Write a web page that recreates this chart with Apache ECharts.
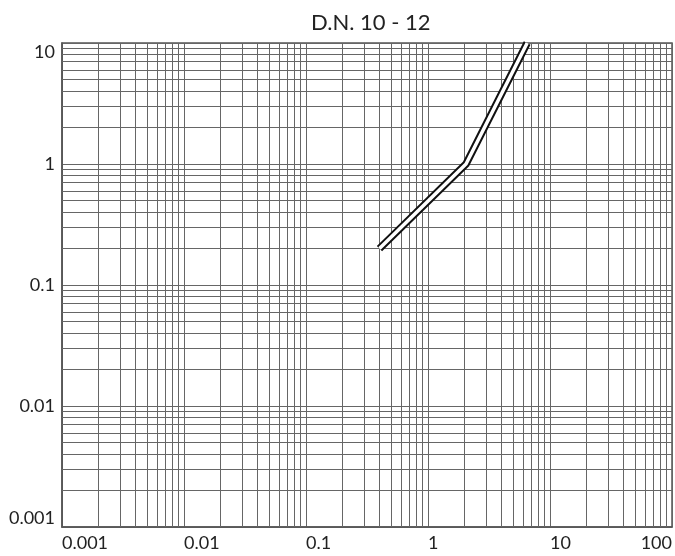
<!DOCTYPE html>
<html>
<head>
<meta charset="utf-8">
<style>
  html, body { margin: 0; padding: 0; background: #fff; }
  #chart { width: 675px; height: 556px; }
</style>
<script src="https://cdn.jsdelivr.net/npm/echarts@6/dist/echarts.min.js"></script>
</head>
<body>
<div id="chart"></div>
<script>
// ---- data ----
const titleText = 'D.N. 10 - 12';
const xTickLabels = ['0.001', '0.01', '0.1', '1', '10', '100'];
const yTickLabels = ['0.001', '0.01', '0.1', '1', '10'];
const curveX = [0.4, 2.05, 6.5];
const curveY = [0.2, 1.0, 10];
// log paper minor grid: mantissas within each decade
const gridMantissas = [2, 3, 4, 5, 6, 7, 8, 9];
const xDecades = [0.001, 0.01, 0.1, 1, 10];
const yDecades = [0.001, 0.01, 0.1, 1];
const xRange = [0.001, 100];
const yRange = [0.001, 10];

const curveData = curveX.map((x, i) => [x, curveY[i]]);
const minorLines = [];
xDecades.forEach(d => gridMantissas.forEach(m => {
  const v = m * d;
  minorLines.push({ coords: [[v, yRange[0]], [v, yRange[1]]] });
}));
yDecades.forEach(d => gridMantissas.forEach(m => {
  const v = m * d;
  minorLines.push({ coords: [[xRange[0], v], [xRange[1], v]] });
}));

const labelFont = 'Lato, "Open Sans", sans-serif';
const gridColor = '#666';

function fmt(labels, minExp) {
  return function (v) {
    const e = Math.round(Math.log10(v));
    return labels[e - minExp] !== undefined ? labels[e - minExp] : '';
  };
}

const chart = echarts.init(document.getElementById('chart'), null, { renderer: 'canvas' });
chart.setOption({
  animation: false,
  backgroundColor: '#ffffff',
  title: {
    text: titleText,
    left: 306,
    top: 7,
    textStyle: { fontFamily: labelFont, fontSize: 22, fontWeight: 'normal', color: '#222' }
  },
  grid: {
    left: 62, right: 3, top: 43, bottom: 29,
    show: true, borderColor: '#555', borderWidth: 1.5, backgroundColor: 'transparent'
  },
  xAxis: {
    type: 'log', logBase: 10, min: xRange[0], max: xRange[1], splitNumber: 5,
    axisLine: { show: true, lineStyle: { color: '#555', width: 1.5 } },
    axisTick: { show: false },
    axisLabel: {
      formatter: fmt(xTickLabels, -3),
      color: '#222', fontFamily: labelFont, fontSize: 18, margin: 7,
      align: 'left', alignMaxLabel: 'right'
    },
    splitLine: { show: true, lineStyle: { color: gridColor, width: 1 } }
  },
  yAxis: {
    type: 'log', logBase: 10, min: yRange[0], max: yRange[1], splitNumber: 4,
    axisLine: { show: true, lineStyle: { color: '#555', width: 1.5 } },
    axisTick: { show: false },
    axisLabel: {
      formatter: fmt(yTickLabels, -3),
      color: '#222', fontFamily: labelFont, fontSize: 18, margin: 7,
      verticalAlignMinLabel: 'bottom', verticalAlignMaxLabel: 'top'
    },
    splitLine: { show: true, lineStyle: { color: gridColor, width: 1 } }
  },
  series: [
    {
      type: 'lines',
      coordinateSystem: 'cartesian2d',
      silent: true,
      z: 1,
      lineStyle: { color: gridColor, width: 1, opacity: 1 },
      data: minorLines
    },
    {
      type: 'line',
      data: curveData,
      showSymbol: false,
      silent: true,
      z: 5,
      lineStyle: { color: '#111', width: 7.5, cap: 'butt', join: 'miter' }
    },
    {
      type: 'line',
      data: curveData,
      showSymbol: false,
      silent: true,
      z: 6,
      lineStyle: { color: '#fff', width: 3.5, cap: 'butt', join: 'miter' }
    }
  ]
});
</script>
</body>
</html>
